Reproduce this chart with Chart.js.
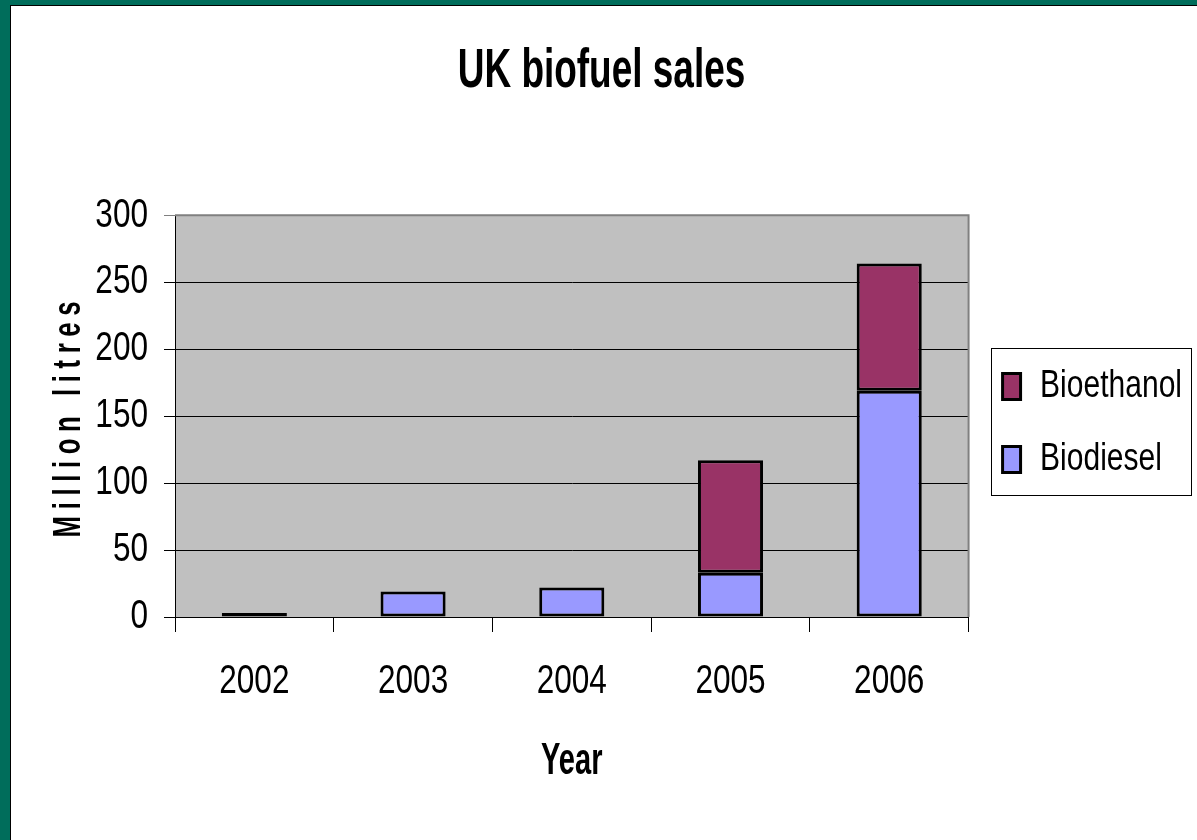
<!DOCTYPE html>
<html>
<head>
<meta charset="utf-8">
<script src="https://cdn.jsdelivr.net/npm/chart.js@4"></script>
<style>
  body { margin: 0; background: #006d5b; overflow: hidden; }
  #panel {
    position: absolute; left: 10px; top: 5px; width: 1187px; height: 835px;
    background: #fff; border-left: 1px solid #000; border-top: 1px solid #000;
  }
  canvas { display: block; }
</style>
</head>
<body>
<div id="panel"><canvas id="chart-area" width="1186" height="834"></canvas></div>
<script>
var years = ['2002', '2003', '2004', '2005', '2006'];
var biodiesel = [3, 19, 22, 33, 169];
var bioethanol = [0, 0, 0, 84, 95];
var yTicks = [0, 50, 100, 150, 200, 250, 300];

var font = "'Liberation Sans', Arial, sans-serif";

// the original uses a tall, squeezed Arial: squeeze text horizontally
var squeeze = function(ctx) {
    var fill = ctx.fillText.bind(ctx),
        measure = ctx.measureText.bind(ctx);
    var k = function() { return /bold/.test(ctx.font) ? 0.66 : 0.77; };
    ctx.fillText = function(t, x, y, mw) {
        var f = k();
        ctx.save();
        ctx.translate(x, y);
        ctx.scale(f, 1);
        if (mw === undefined) fill(t, 0, 0); else fill(t, 0, 0, mw / f);
        ctx.restore();
    };
    ctx.measureText = function(t) {
        var m = measure(t), f = k();
        return {
            width: m.width * f,
            actualBoundingBoxAscent: m.actualBoundingBoxAscent,
            actualBoundingBoxDescent: m.actualBoundingBoxDescent,
            actualBoundingBoxLeft: m.actualBoundingBoxLeft * f,
            actualBoundingBoxRight: m.actualBoundingBoxRight * f
        };
    };
};

// grey plot area, grey top/right frame and the box round the legend
var frame = {
    id: 'frame',
    beforeDraw: function(chart) {
        var a = chart.chartArea, ctx = chart.ctx;
        ctx.save();
        ctx.fillStyle = '#c0c0c0';
        ctx.fillRect(a.left, a.top, a.right - a.left, a.bottom - a.top);
        ctx.restore();
    },
    afterDatasetsDraw: function(chart) {
        var a = chart.chartArea, ctx = chart.ctx;
        ctx.save();
        ctx.strokeStyle = '#808080';
        ctx.lineWidth = 2;
        ctx.beginPath();
        ctx.moveTo(a.left, a.top);
        ctx.lineTo(a.right, a.top);
        ctx.lineTo(a.right, a.bottom);
        ctx.stroke();
        ctx.restore();
    },
    afterDraw: function(chart) {
        var boxes = chart.legend.legendHitBoxes, ctx = chart.ctx;
        if (!boxes || !boxes.length) return;
        var first = boxes[0], last = boxes[boxes.length - 1];
        var l = first.left - 12, r = first.left + first.width + 9;
        var t = first.top + first.height / 2 - 39;
        var b = last.top + last.height / 2 + 35;
        ctx.save();
        ctx.strokeStyle = '#000';
        ctx.lineWidth = 1;
        ctx.strokeRect(Math.round(l) + 0.5, Math.round(t) + 0.5, Math.round(r - l), Math.round(b - t));
        ctx.restore();
    },
    afterLayout: function(chart) {
        // spaced-out letters on the y axis title
        var s = chart.scales.y;
        if (s && !s._spaced) {
            var orig = s.drawTitle.bind(s);
            s.drawTitle = function() {
                chart.ctx.save();
                chart.ctx.letterSpacing = '10px';
                orig();
                chart.ctx.restore();
            };
            s._spaced = true;
        }
    }
};

var config = {
    type: 'bar',
    data: {
        labels: years,
        datasets: [{
            label: 'Biodiesel',
            data: biodiesel,
            backgroundColor: '#9999ff',
            borderColor: '#000',
            borderWidth: 3,
            borderSkipped: false,
            stack: 's'
        }, {
            label: 'Bioethanol',
            data: bioethanol,
            backgroundColor: '#993366',
            borderColor: '#000',
            borderWidth: 3,
            borderSkipped: false,
            stack: 's'
        }]
    },
    options: {
        responsive: false,
        animation: false,
        devicePixelRatio: 1,
        layout: { padding: { left: 0, top: 0, right: 5, bottom: 0 } },
        datasets: { bar: { barPercentage: 0.41, categoryPercentage: 1 } },
        plugins: {
            title: {
                display: true,
                text: 'UK biofuel sales',
                color: '#000',
                font: { family: font, size: 56, weight: 'bold' },
                padding: { top: 32, bottom: 110 }
            },
            legend: {
                position: 'right',
                reverse: true,
                labels: {
                    color: '#000',
                    font: { family: font, size: 39 },
                    boxWidth: 18,
                    boxHeight: 26,
                    padding: 34
                }
            },
            tooltip: { enabled: false }
        },
        scales: {
            x: {
                stacked: true,
                afterFit: function(s) { s.height = 223; },
                grid: { display: true, drawOnChartArea: false, drawTicks: true, tickLength: 15, color: '#000', offset: true },
                border: { color: '#000', width: 1 },
                ticks: { color: '#000', padding: 25, font: { family: font, size: 41 } },
                title: {
                    display: true, text: 'Year', color: '#000',
                    font: { family: font, size: 44, weight: 'bold' },
                    padding: { top: 0, bottom: 52 }
                }
            },
            y: {
                stacked: true,
                min: 0,
                max: 300,
                afterFit: function(s) { s.width = 164; },
                afterBuildTicks: function(s) { s.ticks = yTicks.map(function(v) { return { value: v }; }); },
                grid: {
                    color: function(c) { return c.tick && c.tick.value === 300 ? '#808080' : '#000'; },
                    lineWidth: 1,
                    tickLength: 11
                },
                border: { color: '#000', width: 1 },
                ticks: { color: '#000', padding: 16, font: { family: font, size: 41 } },
                title: {
                    display: true, text: 'Million litres', color: '#000',
                    font: { family: font, size: 39, weight: 'bold' },
                    padding: { top: 35, bottom: 0 }
                }
            }
        }
    },
    plugins: [frame]
};

var ctx = document.getElementById('chart-area').getContext('2d');
squeeze(ctx);
window.myChart = new Chart(ctx, config);
</script>
</body>
</html>
